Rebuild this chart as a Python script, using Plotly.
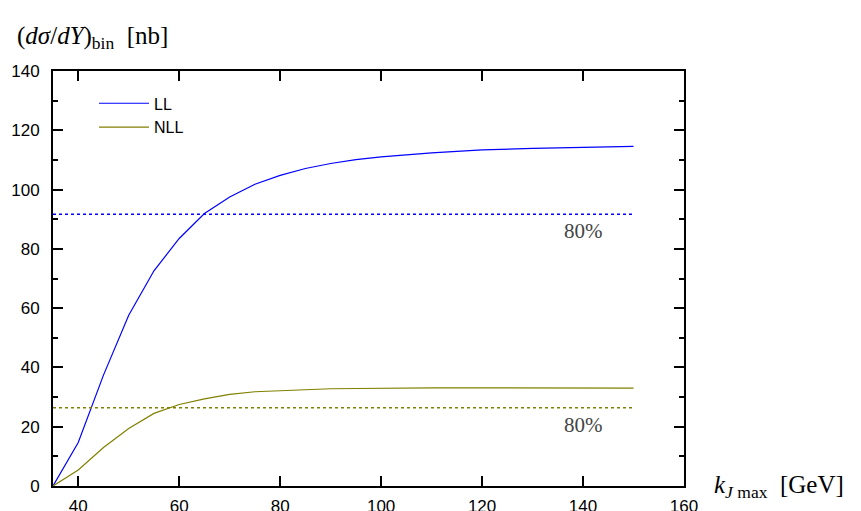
import plotly.graph_objects as go

k_max = [35, 40, 45, 50, 55, 60, 65, 70, 75, 80, 85, 90, 95, 100, 110, 120, 130, 140, 150]
ll = [0, 14.7, 37.4, 57.6, 72.6, 83.5, 91.9, 97.5, 101.8, 104.8, 107.1, 108.8, 110.1, 111.0, 112.4, 113.4, 113.9, 114.3, 114.6]
nll = [0, 5.4, 13.0, 19.4, 24.5, 27.5, 29.4, 30.9, 31.8, 32.2, 32.6, 32.8, 32.9, 33.0, 33.1, 33.1, 33.0, 33.0, 33.0]
series_names = ["LL", "NLL"]
colors = ["#0000ff", "#808000"]
frac = 0.8

fig = go.Figure()
for name, ys, c in zip(series_names, [ll, nll], colors):
    fig.add_trace(go.Scatter(x=k_max, y=ys, mode="lines", name=name,
                             line=dict(color=c, width=1.2)))
for ys, c in zip([ll, nll], colors):
    lvl = frac * ys[-1]
    fig.add_trace(go.Scatter(x=[k_max[0], k_max[-1]], y=[lvl, lvl], mode="lines",
                             showlegend=False, line=dict(color=c, width=1.5, dash="dot")))
    fig.add_annotation(x=140, y=lvl, xref="x", yref="y", text="80%", showarrow=False,
                       yanchor="top", yshift=-3,
                       font=dict(family="Liberation Serif", size=21, color="#444444"))

axis_common = dict(showline=True, linecolor="black", linewidth=2, mirror="allticks",
                   ticks="inside", ticklen=10, tickwidth=1.5, tickcolor="black",
                   showgrid=False, zeroline=False, automargin=False,
                   tickfont=dict(family="Liberation Sans", size=17, color="black"))
fig.update_xaxes(range=[35, 160], tickvals=[40, 60, 80, 100, 120, 140, 160],
                 ticklabelstandoff=4, **axis_common)
fig.update_yaxes(range=[0, 140], dtick=20, tick0=0,
                 minor=dict(ticks="inside", ticklen=5, dtick=10, tickwidth=1.5, tickcolor="black"),
                 ticklabelstandoff=8, **axis_common)

fig.add_annotation(xref="paper", yref="paper", x=-0.06, y=1.08, xanchor="left", yanchor="middle",
                   text="(<i>dσ</i>/<i>dY</i>)<sub>bin</sub>  [nb]", showarrow=False,
                   font=dict(family="Liberation Serif", size=25, color="black"))
fig.add_annotation(xref="paper", yref="paper", x=1.044, y=0.0, xanchor="left", yanchor="middle",
                   text="<i>k</i><sub><i>J</i> max</sub>  [GeV]", showarrow=False,
                   font=dict(family="Liberation Serif", size=25, color="black"))

fig.update_layout(width=861, height=511, plot_bgcolor="white", paper_bgcolor="white",
                  margin=dict(l=45, r=185, t=63, b=33),
                  legend=dict(x=0.065, y=0.963, xanchor="left", yanchor="top",
                              bgcolor="rgba(0,0,0,0)", tracegroupgap=0, itemwidth=50,
                              font=dict(family="Liberation Sans", size=16, color="black")),
                  showlegend=True)
fig.write_html("out.html")
